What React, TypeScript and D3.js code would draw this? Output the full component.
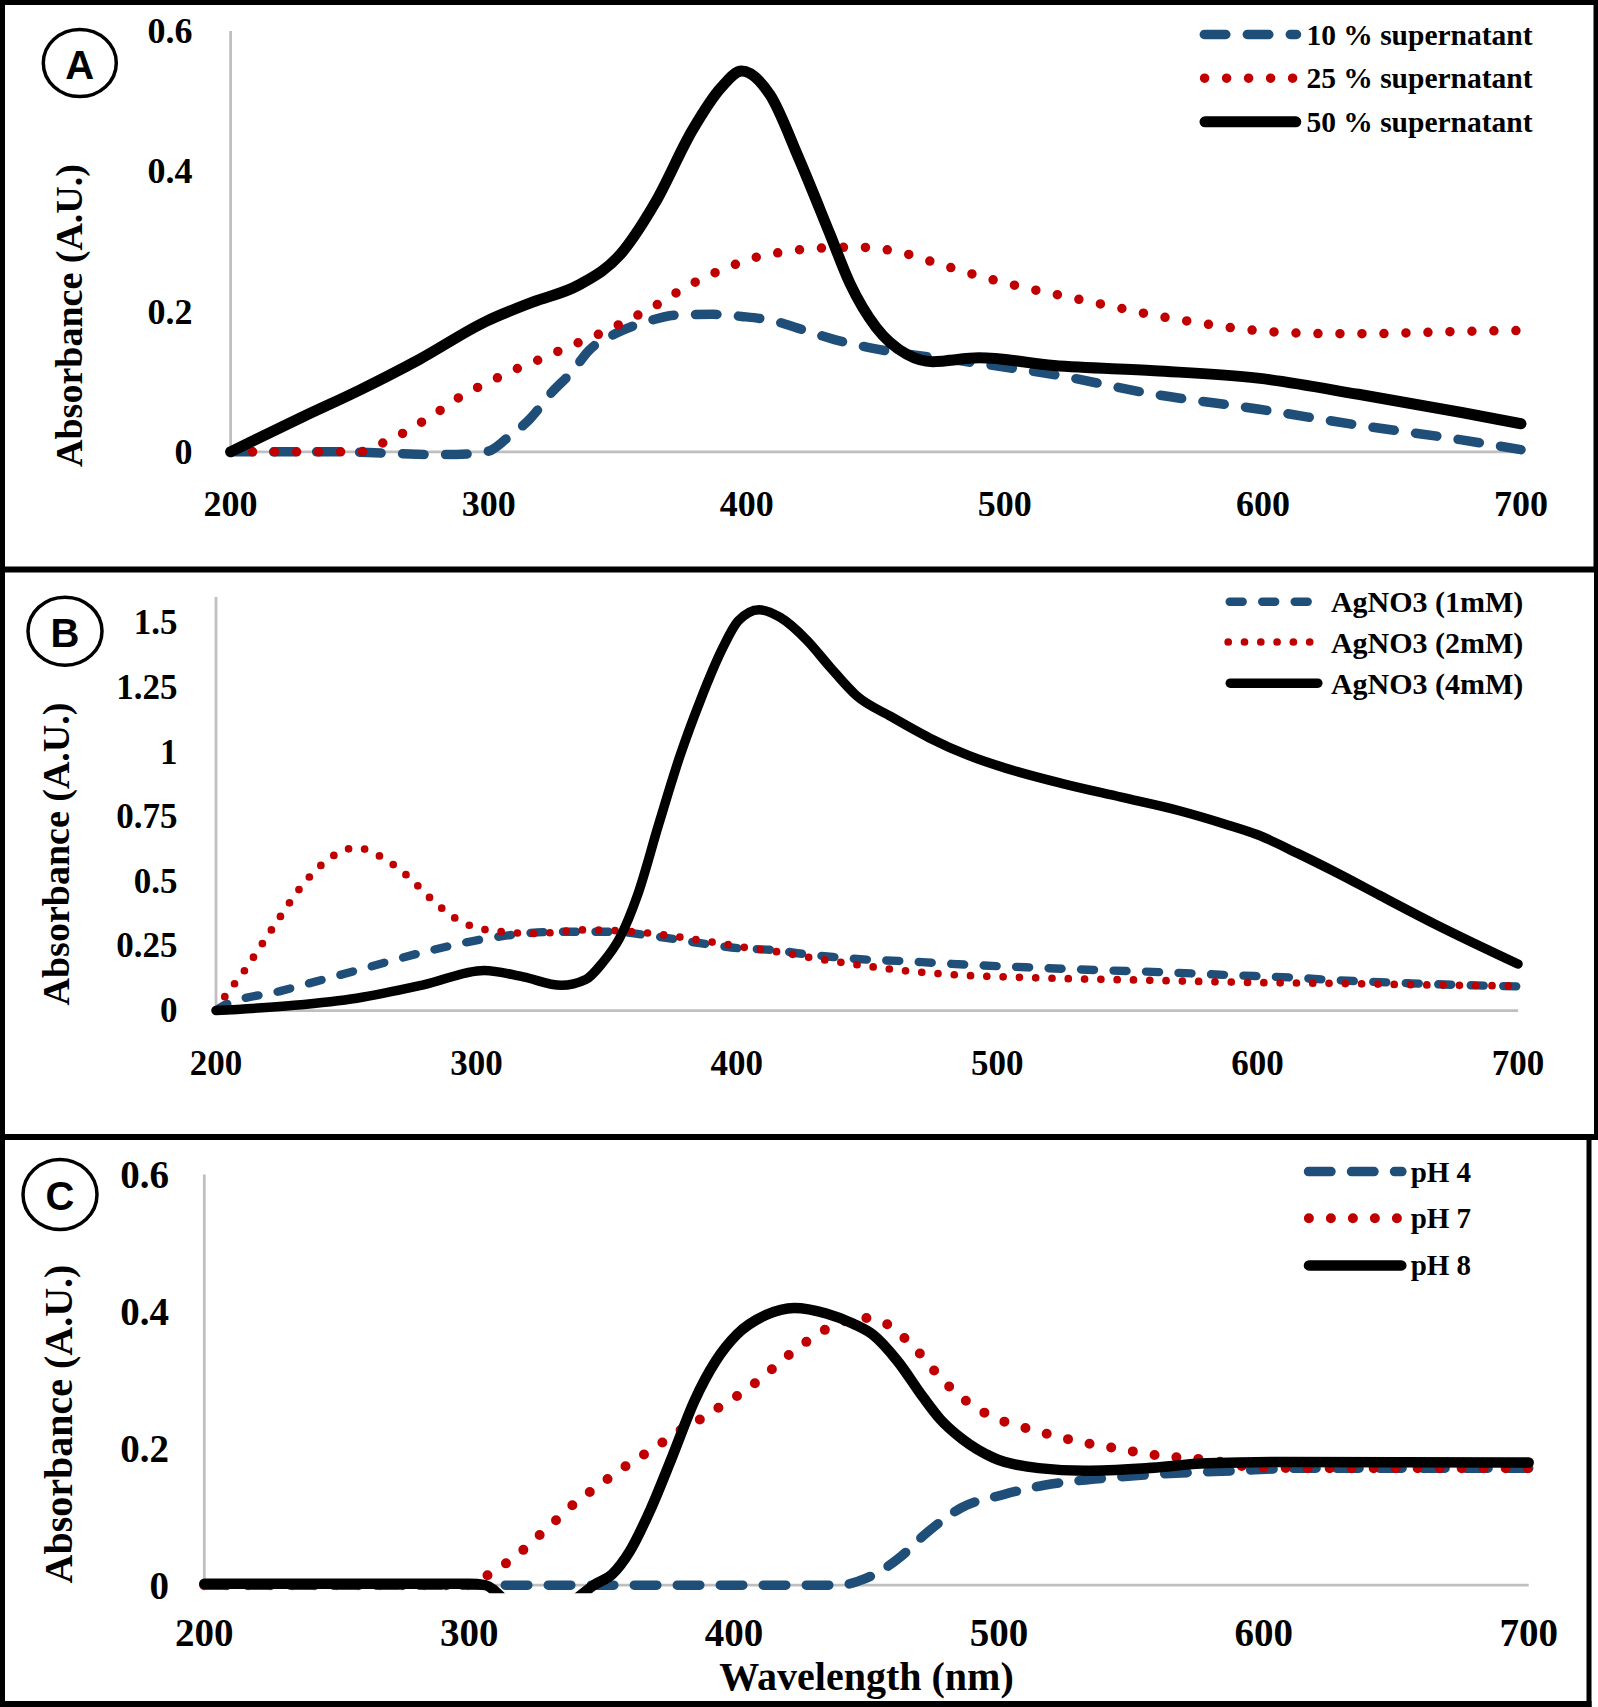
import React from "react";
import * as d3 from "d3";

type Pt = [number, number];

// ---------- shared axis values ----------
const wavelengthTicks = [200, 300, 400, 500, 600, 700];
const panelAYTicks = [0, 0.2, 0.4, 0.6];
const panelBYTicks = [0, 0.25, 0.5, 0.75, 1, 1.25, 1.5];
const panelCYTicks = [0, 0.2, 0.4, 0.6];

// ---------- panel A : supernatant concentration ----------
const legendA = ["10 % supernatant", "25 % supernatant", "50 % supernatant"];
const a10: Pt[] = [
  [200, 0], [240, 0], [260, -0.002], [280, -0.004], [292, -0.003], [300, 0.001], [307, 0.019],
  [316, 0.047], [324.5, 0.085], [332, 0.113], [339, 0.145], [350, 0.17], [361.5, 0.186],
  [373, 0.195], [387, 0.196], [398, 0.193], [410, 0.187], [420, 0.176], [434, 0.16],
  [454, 0.144], [486, 0.128], [519, 0.11], [558, 0.082], [598, 0.061], [637, 0.038],
  [677, 0.017], [700, 0.003],
];
const a25: Pt[] = [
  [200, 0], [250, 0], [258, 0.011], [266, 0.025], [273, 0.04], [280, 0.056], [287, 0.074],
  [294.5, 0.0895], [302, 0.103], [310, 0.117], [318, 0.129], [325.5, 0.141], [333, 0.153],
  [341, 0.165], [348.6, 0.178], [356, 0.1915], [364, 0.207], [371, 0.223], [378, 0.238],
  [386, 0.2525], [394, 0.265], [401, 0.2745], [417, 0.2865], [426.5, 0.29], [443, 0.2917],
  [460, 0.284], [476, 0.266], [493, 0.2477], [509, 0.233], [525.5, 0.22], [542, 0.207],
  [558.6, 0.194], [575, 0.184], [592, 0.175], [609, 0.17], [626, 0.1685], [643, 0.1685],
  [660, 0.17], [677, 0.1716], [700, 0.173],
];
const a50: Pt[] = [
  [200, 0], [228, 0.05], [250, 0.088], [273, 0.1315], [299, 0.186], [317, 0.2134],
  [335, 0.238], [351, 0.2814], [364.5, 0.355], [379, 0.459], [390, 0.519], [398, 0.543],
  [409, 0.509], [420, 0.42], [432, 0.3125], [440, 0.24], [450, 0.178], [462, 0.139],
  [472, 0.1285], [490, 0.134], [519, 0.123], [558, 0.1156], [598, 0.105], [637, 0.082],
  [677, 0.056], [700, 0.04],
];

// ---------- panel B : AgNO3 concentration ----------
const legendB = ["AgNO3 (1mM)", "AgNO3 (2mM)", "AgNO3 (4mM)"];
const b1: Pt[] = [
  [200, 0], [203, 0.019], [225, 0.076], [254, 0.155], [283, 0.234], [303, 0.277],
  [332, 0.305], [352, 0.305], [370, 0.285], [389, 0.256], [400.5, 0.241], [414, 0.234],
  [425.5, 0.219], [437, 0.207], [450.5, 0.1965], [462, 0.192], [475.5, 0.1845], [489, 0.177],
  [512, 0.1667], [540, 0.156], [564, 0.148], [589, 0.137], [614, 0.127], [629, 0.118],
  [659, 0.105], [700, 0.093],
];
const b2: Pt[] = [
  [200, 0], [203, 0.0476], [211, 0.155], [218, 0.262], [224.6, 0.362], [232, 0.47],
  [240, 0.559], [247, 0.61], [254, 0.63], [262.8, 0.598], [273.6, 0.52], [282.4, 0.434],
  [292.2, 0.355], [304, 0.312], [322.6, 0.298], [342, 0.312], [360, 0.305], [391.7, 0.263],
  [403.4, 0.2437], [416.4, 0.226], [428.7, 0.204], [441.2, 0.1845], [453.7, 0.1667],
  [466.2, 0.152], [478.9, 0.1416], [491.4, 0.134], [504, 0.13], [529, 0.1226], [554, 0.118],
  [579, 0.112], [604.5, 0.1075], [629, 0.105], [659, 0.1], [700, 0.095],
];
const b4: Pt[] = [
  [200, 0], [230, 0.02], [254, 0.0476], [280, 0.1], [303, 0.155], [318, 0.13], [332.6, 0.0975],
  [342, 0.12], [348.3, 0.183], [355, 0.28], [362, 0.45], [370, 0.72], [378, 0.98],
  [386, 1.2], [394.6, 1.403], [400.5, 1.507], [408.6, 1.551], [416.7, 1.521], [427, 1.432],
  [435.8, 1.329], [446, 1.218], [459.3, 1.137], [474, 1.055], [488.7, 0.988], [503.5, 0.937],
  [525.5, 0.877], [547.6, 0.8255], [569.6, 0.774], [587.3, 0.722], [600, 0.68],
  [615, 0.61], [630, 0.535], [647, 0.445], [668, 0.335], [700, 0.18],
];

// ---------- panel C : pH ----------
const legendC = ["pH 4", "pH 7", "pH 8"];
const c4: Pt[] = [
  [200, 0], [300, 0], [440, 0], [447, 0.006], [455, 0.02], [463, 0.042], [472.6, 0.076],
  [486, 0.1136], [501.7, 0.1324], [517, 0.146], [536, 0.155], [559, 0.162], [588, 0.167],
  [617, 0.171], [700, 0.171],
];
const c7: Pt[] = [
  [200, 0], [300, 0], [306, 0.0126], [312.8, 0.029], [319.5, 0.0485], [325.6, 0.07],
  [331.7, 0.091], [337.7, 0.1127], [344.1, 0.132], [350.8, 0.151], [357.6, 0.17],
  [364.4, 0.187], [371.3, 0.204], [378.2, 0.223], [385.4, 0.238], [392.3, 0.255],
  [399.4, 0.272], [406.2, 0.29], [412.6, 0.31], [418.9, 0.331], [425.4, 0.35], [432.1, 0.3685],
  [439.5, 0.3816], [447, 0.391], [455, 0.3868], [462, 0.3685], [468, 0.348], [473.3, 0.3234],
  [479, 0.299], [484.8, 0.2777], [491.5, 0.259], [498.8, 0.2438], [506.5, 0.2336],
  [514.4, 0.225], [522.5, 0.217], [530.3, 0.2094], [538.6, 0.204], [546.5, 0.198],
  [554.7, 0.193], [562.8, 0.188], [570.9, 0.186], [579.1, 0.183], [595.6, 0.1727],
  [620, 0.171], [700, 0.171],
];
const c8: Pt[] = [
  [200, 0.002], [300, 0.002], [306, 0], [316, -0.03], [330, -0.045], [342, -0.015], [347, 0],
  [354, 0.016], [360.7, 0.05], [368.7, 0.1127], [377, 0.191], [385, 0.269], [393, 0.327],
  [401, 0.366], [412, 0.3946], [422.7, 0.405], [434.8, 0.397], [445, 0.382], [452.4, 0.366],
  [461.8, 0.327], [471.3, 0.275], [477.7, 0.243], [486.3, 0.213], [498, 0.186], [515, 0.171],
  [532.5, 0.1673], [555.5, 0.171], [578.6, 0.178], [607, 0.18], [700, 0.1793],
];

const BLUE = "#1f4e79";
const RED = "#c00000";
const BLACK = "#000000";
const AXIS = "#bfbfbf";
const SERIF = "'Liberation Serif', 'Times New Roman', serif";
const SANS = "'Liberation Sans', Arial, sans-serif";

interface Style {
  color: string;
  width: number;
  dash?: string;
}
interface PanelCfg {
  id: string;
  letter: string;
  circle: { cx: number; cy: number; rx: number; ry: number };
  xRange: [number, number];
  y0: number;
  yTick: number;
  lastTick: number;
  yMax: number;
  yTicks: number[];
  yTickRight: number;
  xTickY: number;
  tickSize: number;
  yTitle: { x: number; y: number; size: number };
  series: { data: Pt[]; style: Style }[];
  legend: { names: string[]; rows: number[]; spans: [number, number][]; textX: number; size: number };
}

function Panel({ cfg }: { cfg: PanelCfg }) {
  const x = d3.scaleLinear().domain([200, 700]).range(cfg.xRange);
  const pxPerUnit = (cfg.y0 - cfg.yTick) / cfg.lastTick;
  const y = d3
    .scaleLinear()
    .domain([0, cfg.yMax])
    .range([cfg.y0, cfg.y0 - pxPerUnit * cfg.yMax]);
  const line = d3
    .line<Pt>()
    .x((d) => x(d[0]))
    .y((d) => y(d[1]))
    .curve(d3.curveMonotoneX);
  const clipId = `clip-${cfg.id}`;
  const yTop = y(cfg.yMax);
  return (
    <g>
      <defs>
        <clipPath id={clipId}>
          <rect x={x(200) - 12} y={yTop - 30} width={x(700) - x(200) + 24} height={cfg.y0 - yTop + 38} />
        </clipPath>
      </defs>
      <line x1={x(200)} x2={x(200)} y1={yTop} y2={cfg.y0} stroke={AXIS} strokeWidth={2.75} />
      <line x1={x(200)} x2={x(700)} y1={cfg.y0} y2={cfg.y0} stroke={AXIS} strokeWidth={2.75} />
      {cfg.yTicks.map((t) => (
        <text
          key={"y" + t}
          x={cfg.yTickRight}
          y={y(t)}
          textAnchor="end"
          dominantBaseline="central"
          fontFamily={SERIF}
          fontWeight="bold"
          fontSize={cfg.tickSize}
        >
          {String(t)}
        </text>
      ))}
      {wavelengthTicks.map((t) => (
        <text
          key={"x" + t}
          x={x(t)}
          y={cfg.xTickY}
          textAnchor="middle"
          dominantBaseline="central"
          fontFamily={SERIF}
          fontWeight="bold"
          fontSize={cfg.tickSize}
        >
          {String(t)}
        </text>
      ))}
      <text
        transform={`translate(${cfg.yTitle.x},${cfg.yTitle.y}) rotate(-90)`}
        textAnchor="middle"
        dominantBaseline="central"
        fontFamily={SERIF}
        fontWeight="bold"
        fontSize={cfg.yTitle.size}
      >
        Absorbance (A.U.)
      </text>
      <g clipPath={`url(#${clipId})`}>
        {cfg.series.map((s, i) => (
          <path
            key={i}
            d={line(s.data) || ""}
            fill="none"
            stroke={s.style.color}
            strokeWidth={s.style.width}
            strokeDasharray={s.style.dash}
            strokeLinecap="round"
            strokeLinejoin="round"
          />
        ))}
      </g>
      {cfg.legend.names.map((name, i) => {
        const s = cfg.series[i].style;
        const [lx1, lx2] = cfg.legend.spans[i];
        const ly = cfg.legend.rows[i];
        return (
          <g key={name}>
            <line
              x1={lx1}
              x2={lx2}
              y1={ly}
              y2={ly}
              stroke={s.color}
              strokeWidth={s.width}
              strokeDasharray={s.dash}
              strokeLinecap="round"
            />
            <text
              x={cfg.legend.textX}
              y={ly}
              dominantBaseline="central"
              fontFamily={SERIF}
              fontWeight="bold"
              fontSize={cfg.legend.size}
            >
              {name}
            </text>
          </g>
        );
      })}
      <ellipse
        cx={cfg.circle.cx}
        cy={cfg.circle.cy}
        rx={cfg.circle.rx}
        ry={cfg.circle.ry}
        fill="none"
        stroke={BLACK}
        strokeWidth={3.5}
      />
      <text
        x={cfg.circle.cx}
        y={cfg.circle.cy + 2}
        textAnchor="middle"
        dominantBaseline="central"
        fontFamily={SANS}
        fontWeight="bold"
        fontSize={40}
      >
        {cfg.letter}
      </text>
    </g>
  );
}

export default function App() {
  const panelA: PanelCfg = {
    id: "A",
    letter: "A",
    circle: { cx: 79.8, cy: 63, rx: 36.5, ry: 33.5 },
    xRange: [230.6, 1521],
    y0: 451.8,
    yTick: 31,
    lastTick: 0.6,
    yMax: 0.6,
    yTicks: panelAYTicks,
    yTickRight: 192.5,
    xTickY: 504,
    tickSize: 36,
    yTitle: { x: 69, y: 315.5, size: 38 },
    series: [
      { data: a10, style: { color: BLUE, width: 9.5, dash: "21.5 21.5" } },
      { data: a25, style: { color: RED, width: 9.5, dash: "0 22" } },
      { data: a50, style: { color: BLACK, width: 11 } },
    ],
    legend: {
      names: legendA,
      rows: [34.5, 78.2, 121.8],
      spans: [
        [1204.3, 1296.5],
        [1204.6, 1293],
        [1205, 1295.8],
      ],
      textX: 1306.4,
      size: 29.5,
    },
  };
  const panelB: PanelCfg = {
    id: "B",
    letter: "B",
    circle: { cx: 65, cy: 631.2, rx: 37, ry: 34 },
    xRange: [216, 1518],
    y0: 1010.5,
    yTick: 622.9,
    lastTick: 1.5,
    yMax: 1.6,
    yTicks: panelBYTicks,
    yTickRight: 177.6,
    xTickY: 1063,
    tickSize: 35,
    yTitle: { x: 56, y: 854, size: 38 },
    series: [
      { data: b1, style: { color: BLUE, width: 8.4, dash: "13 19.5" } },
      { data: b2, style: { color: RED, width: 7.7, dash: "0 16.3" } },
      { data: b4, style: { color: BLACK, width: 9.5 } },
    ],
    legend: {
      names: legendB,
      rows: [601.8, 642, 683.2],
      spans: [
        [1229.7, 1310],
        [1228.2, 1310.5],
        [1230.3, 1317.8],
      ],
      textX: 1330.9,
      size: 30,
    },
  };
  const panelC: PanelCfg = {
    id: "C",
    letter: "C",
    circle: { cx: 60, cy: 1194.4, rx: 37, ry: 35 },
    xRange: [204.3, 1528.7],
    y0: 1585.2,
    yTick: 1174.5,
    lastTick: 0.6,
    yMax: 0.6,
    yTicks: panelCYTicks,
    yTickRight: 169,
    xTickY: 1632.4,
    tickSize: 39,
    yTitle: { x: 58, y: 1424, size: 40 },
    series: [
      { data: c4, style: { color: BLUE, width: 9.5, dash: "22.5 20.5" } },
      { data: c7, style: { color: RED, width: 10, dash: "0 22" } },
      { data: c8, style: { color: BLACK, width: 10.5 } },
    ],
    legend: {
      names: legendC,
      rows: [1171.6, 1218.3, 1265.4],
      spans: [
        [1308.5, 1401.9],
        [1308.9, 1398],
        [1309, 1401.3],
      ],
      textX: 1410.7,
      size: 29,
    },
  };

  return (
    <svg
      width={1598}
      height={1707}
      viewBox="0 0 1598 1707"
      style={{ position: "absolute", left: 0, top: 0, background: "#ffffff" }}
    >
      <rect x={0} y={0} width={1598} height={1707} fill="#ffffff" />
      <Panel cfg={panelA} />
      <Panel cfg={panelB} />
      <Panel cfg={panelC} />
      <text
        x={866.5}
        y={1676}
        textAnchor="middle"
        dominantBaseline="central"
        fontFamily={SERIF}
        fontWeight="bold"
        fontSize={40}
      >
        Wavelength (nm)
      </text>
      <g fill={BLACK}>
        <rect x={0} y={0} width={1598} height={5} />
        <rect x={0} y={0} width={5} height={1707} />
        <rect x={1593.5} y={0} width={4.5} height={572} />
        <rect x={0} y={566.5} width={1598} height={6} />
        <rect x={1594} y={566} width={4.5} height={574} />
        <rect x={0} y={1134} width={1598} height={6} />
        <rect x={1586.5} y={1134} width={5} height={573} />
        <rect x={0} y={1701} width={1591.5} height={6} />
      </g>
    </svg>
  );
}
